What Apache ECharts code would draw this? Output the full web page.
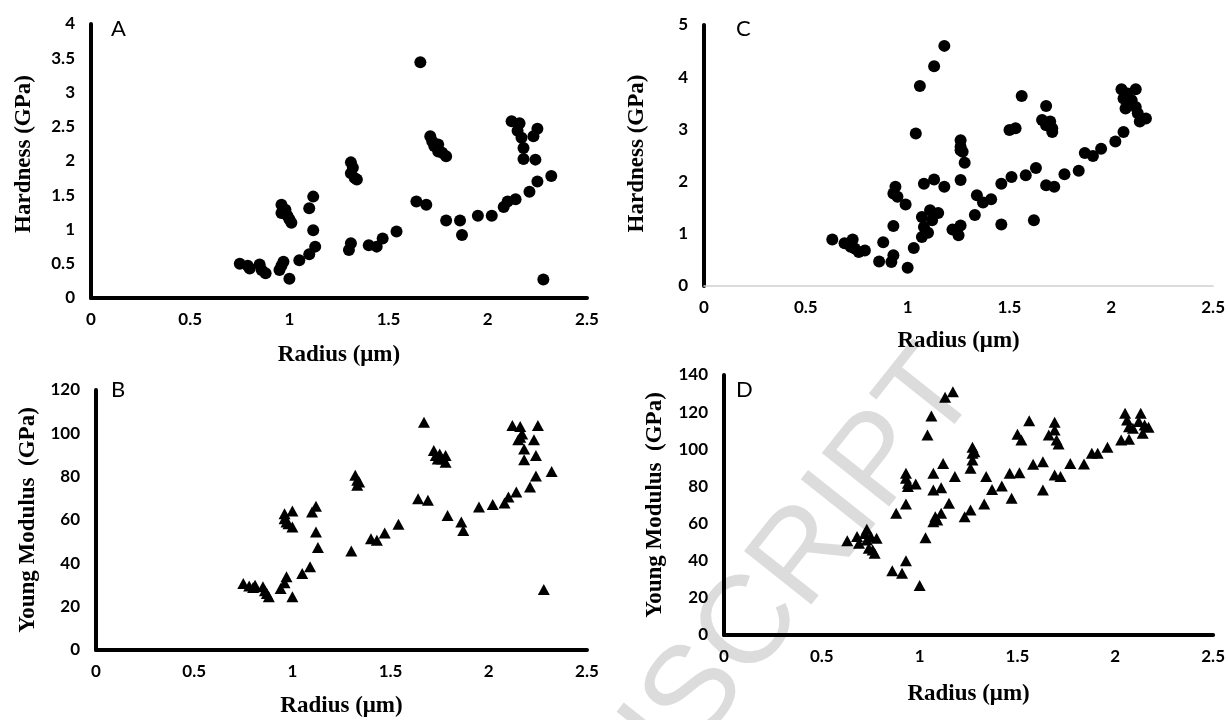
<!DOCTYPE html>
<html>
<head>
<meta charset="utf-8">
<script src="https://cdn.jsdelivr.net/npm/echarts@6/dist/echarts.min.js"></script>
<style>
  html, body { margin: 0; padding: 0; background: #fff; }
  #chart { width: 1228px; height: 720px; }
</style>
</head>
<body>
<div id="chart"></div>
<script>
// panel A - hardness vs radius
const radiusA = [0.75, 0.79, 0.80, 0.85, 0.86, 0.88, 0.95, 0.96, 0.97, 1.00,
  0.96, 0.96, 0.98, 0.99, 1.00, 1.01, 0.97,
  1.05, 1.10, 1.13, 1.12, 1.10, 1.12,
  1.31, 1.32, 1.31, 1.33, 1.34, 1.30, 1.31,
  1.40, 1.44, 1.47, 1.54, 1.66, 1.64, 1.69,
  1.71, 1.72, 1.73, 1.75, 1.75, 1.77, 1.79,
  1.79, 1.86, 1.87, 1.95, 2.02, 2.08, 2.10, 2.14, 2.21, 2.25, 2.32,
  2.12, 2.16, 2.15, 2.17, 2.18, 2.18, 2.24, 2.25, 2.23, 2.28]
const hardnessA = [0.50, 0.47, 0.43, 0.49, 0.41, 0.36, 0.41, 0.47, 0.53, 0.28,
  1.36, 1.24, 1.29, 1.20, 1.15, 1.10, 1.26,
  0.55, 0.64, 0.75, 0.99, 1.31, 1.48,
  1.98, 1.90, 1.82, 1.75, 1.73, 0.70, 0.80,
  0.77, 0.75, 0.87, 0.97, 3.44, 1.41, 1.36,
  2.36, 2.29, 2.22, 2.24, 2.14, 2.12, 2.07,
  1.13, 1.13, 0.92, 1.20, 1.20, 1.33, 1.41, 1.44, 1.55, 1.70, 1.78,
  2.58, 2.55, 2.44, 2.34, 2.19, 2.03, 2.02, 2.47, 2.36, 0.27]

// panel B - young modulus vs radius
const radiusB = [0.75, 0.78, 0.80, 0.81, 0.85, 0.86, 0.87, 0.88, 0.94, 0.96, 0.97, 1.00,
  0.96, 0.96, 0.97, 0.98, 1.00, 1.00,
  1.05, 1.09, 1.12, 1.13, 1.10, 1.12,
  1.30, 1.32, 1.33, 1.33, 1.34,
  1.40, 1.43, 1.47, 1.54, 1.67, 1.64, 1.69,
  1.72, 1.73, 1.75, 1.76, 1.78, 1.78, 1.74,
  1.79, 1.86, 1.87, 1.95, 2.02, 2.08, 2.10, 2.14, 2.21, 2.24, 2.32,
  2.12, 2.16, 2.17, 2.15, 2.18, 2.18, 2.23, 2.24, 2.25, 2.16, 2.28]
const modulusB = [30.7, 29.5, 28.8, 29.9, 29.2, 27.3, 26.1, 24.6, 28.4, 31.0, 33.8, 24.6,
  62.9, 60.6, 59.1, 58.3, 64.1, 56.8,
  35.3, 38.4, 54.5, 47.3, 63.7, 66.3,
  45.7, 80.6, 78.3, 76.0, 77.5,
  51.4, 50.6, 54.0, 58.0, 105.1, 69.8, 69.1,
  92.1, 89.8, 90.5, 88.2, 89.8, 86.7, 88.2,
  62.1, 59.1, 55.2, 66.0, 67.2, 67.8, 70.6, 72.9, 75.2, 80.3, 82.4,
  103.6, 103.1, 99.7, 97.0, 92.8, 87.8, 97.0, 89.8, 103.6, 98.2, 27.9]

// panel C - hardness vs radius
const radiusC = [0.63, 0.69, 0.73, 0.72, 0.74, 0.76, 0.79,
  0.86, 0.88, 0.92, 0.93, 0.93, 1.00, 1.03,
  0.94, 0.93, 0.95, 0.99, 1.04, 1.06, 1.13, 1.18,
  1.07, 1.10, 1.07, 1.08, 1.11, 1.12, 1.15, 1.08, 1.13, 1.18,
  1.22, 1.25, 1.26, 1.26, 1.26, 1.26, 1.27, 1.28, 1.26,
  1.33, 1.34, 1.37, 1.41, 1.46, 1.46, 1.51, 1.50, 1.53, 1.56, 1.58,
  1.62, 1.63, 1.68, 1.66, 1.68, 1.70, 1.71, 1.71,
  1.68, 1.72, 1.77, 1.84, 1.87, 1.91, 1.95, 2.02, 2.06,
  2.05, 2.06, 2.07, 2.10, 2.12, 2.13, 2.14, 2.17, 2.08, 2.12]
const hardnessC = [0.89, 0.82, 0.89, 0.75, 0.72, 0.65, 0.68,
  0.47, 0.84, 0.46, 0.59, 1.15, 0.35, 0.73,
  1.90, 1.77, 1.71, 1.56, 2.92, 3.83, 4.21, 4.60,
  0.94, 1.02, 1.32, 1.13, 1.45, 1.26, 1.40, 1.96, 2.04, 1.90,
  1.08, 0.97, 1.16, 2.03, 2.79, 2.67, 2.57, 2.36, 2.60,
  1.36, 1.74, 1.60, 1.66, 1.18, 1.96, 2.09, 2.99, 3.02, 3.64, 2.12,
  1.26, 2.26, 3.45, 3.18, 3.08, 3.15, 3.02, 2.95,
  1.93, 1.90, 2.14, 2.21, 2.55, 2.49, 2.63, 2.77, 2.95,
  3.77, 3.59, 3.40, 3.56, 3.77, 3.31, 3.15, 3.21, 3.69, 3.43]

// panel D - young modulus vs radius
const radiusD = [0.63, 0.68, 0.69, 0.72, 0.73, 0.73, 0.74, 0.76, 0.77, 0.75, 0.78,
  0.86, 0.91, 0.93, 1.00,
  0.88, 0.93, 0.93, 0.93, 0.94, 0.94, 0.98,
  1.03, 1.04, 1.06, 1.13, 1.17,
  1.07, 1.07, 1.11, 1.07, 1.08, 1.11, 1.09, 1.12, 1.15, 1.18,
  1.23, 1.26, 1.27, 1.27, 1.28, 1.26, 1.27,
  1.33, 1.34, 1.37, 1.42, 1.47, 1.46, 1.50, 1.51, 1.52, 1.56, 1.58, 1.63, 1.63,
  1.66, 1.69, 1.69, 1.70, 1.71, 1.69, 1.72, 1.77, 1.84, 1.88, 1.91, 1.96, 2.03, 2.07,
  2.05, 2.06, 2.07, 2.13, 2.12, 2.14, 2.15, 2.09, 2.17]
const modulusD = [50.8, 53.0, 49.4, 54.7, 56.9, 51.2, 46.7, 45.8, 44.0, 53.0, 52.1,
  34.6, 33.2, 40.0, 26.6,
  65.5, 70.5, 87.1, 84.4, 81.7, 79.9, 81.3,
  52.4, 107.7, 117.9, 128.0, 131.0,
  87.1, 78.1, 79.3, 61.0, 63.7, 65.5, 61.9, 92.4, 70.9, 85.3,
  63.7, 67.3, 101.1, 97.8, 98.7, 89.8, 94.2,
  70.5, 85.3, 78.4, 80.2, 73.6, 87.1, 108.1, 87.4, 105.0, 115.4, 91.9, 93.3, 78.1,
  107.7, 114.5, 110.4, 105.0, 102.9, 86.2, 85.3, 92.4, 92.1, 97.8, 97.8, 101.1, 105.0, 105.4,
  119.4, 115.8, 112.2, 119.4, 114.9, 108.6, 113.1, 111.3, 111.8]

const panelLetters = ['A', 'B', 'C', 'D']
const xTitle = 'Radius (μm)'
const yTitles = ['Hardness (GPa)', 'Young Modulus  (GPa)', 'Hardness (GPa)', 'Young Modulus  (GPa)']
const yMax = [4, 120, 5, 140]
const yStep = [0.5, 20, 1, 20]

const zip = (xs, ys) => xs.map((x, i) => [x, ys[i]])

const tickFont = { color: '#000', fontFamily: 'Lato', fontWeight: 'bold', fontSize: 17 }
const titleFont = { color: '#000', fontFamily: 'Liberation Serif', fontWeight: 'bold', fontSize: 23 }
const blackLine = { color: '#000', width: 4 }

const grids = [
  { left: 91, top: 24, width: 496, height: 274 },
  { left: 96, top: 390, width: 491, height: 260 },
  { left: 704, top: 25, width: 511, height: 261 },
  { left: 724, top: 375, width: 491, height: 260 },
]
const xNameGap = [46, 45, 44, 48]
const yNameGap = [55, 56, 55, 57]
// the first y title sits a little above the middle of its axis
const yNameShift = [14, 0, 4, 0]
const letterPos = [[111, 18], [111, 379], [736, 18], [736, 379]]

const chart = echarts.init(document.getElementById('chart'))

chart.setOption({
  backgroundColor: '#fff',
  animation: false,
  title: panelLetters.map((t, i) => ({
    text: t,
    left: letterPos[i][0],
    top: letterPos[i][1],
    padding: 0,
    textStyle: { color: '#000', fontFamily: 'Lato', fontWeight: 'normal', fontSize: 22 },
  })),
  graphic: [
    {
      // watermark from the source page
      type: 'text',
      x: 955,
      y: 368,
      rotation: 0.9,
      z: 0,
      style: {
        text: 'USCRIPT',
        fontSize: 125,
        fontFamily: 'Liberation Sans',
        fill: '#dcdcdc',
        align: 'right',
        verticalAlign: 'middle',
      },
    },
  ],
  grid: grids,
  xAxis: grids.map((g, i) => ({
    type: 'value',
    gridIndex: i,
    min: 0,
    max: 2.5,
    interval: 0.5,
    name: xTitle,
    nameLocation: 'middle',
    nameGap: xNameGap[i],
    nameTextStyle: titleFont,
    axisLine: { show: true, onZero: false, lineStyle: i === 2 ? { color: '#d0d0d0', width: 1.5 } : blackLine },
    axisTick: { show: false },
    splitLine: { show: false },
    axisLabel: { ...tickFont, margin: 13 },
  })),
  yAxis: grids.map((g, i) => ({
    type: 'value',
    gridIndex: i,
    min: 0,
    max: yMax[i],
    interval: yStep[i],
    name: yTitles[i],
    nameLocation: 'middle',
    nameGap: yNameGap[i],
    nameRotate: 90,
    nameTextStyle: { ...titleFont, padding: [0, 0, 0, yNameShift[i]] },
    axisLine: { show: true, onZero: false, lineStyle: blackLine },
    axisTick: { show: false },
    splitLine: { show: false },
    axisLabel: { ...tickFont, margin: 16 },
  })),
  series: [
    { data: zip(radiusA, hardnessA), symbol: 'circle', symbolSize: 12 },
    { data: zip(radiusB, modulusB), symbol: 'triangle', symbolSize: [12, 11] },
    { data: zip(radiusC, hardnessC), symbol: 'circle', symbolSize: 12 },
    { data: zip(radiusD, modulusD), symbol: 'triangle', symbolSize: [12, 11] },
  ].map((s, i) => ({
    ...s,
    type: 'scatter',
    xAxisIndex: i,
    yAxisIndex: i,
    itemStyle: { color: '#000', opacity: 1 },
    z: 3,
  })),
})
</script>
</body>
</html>
